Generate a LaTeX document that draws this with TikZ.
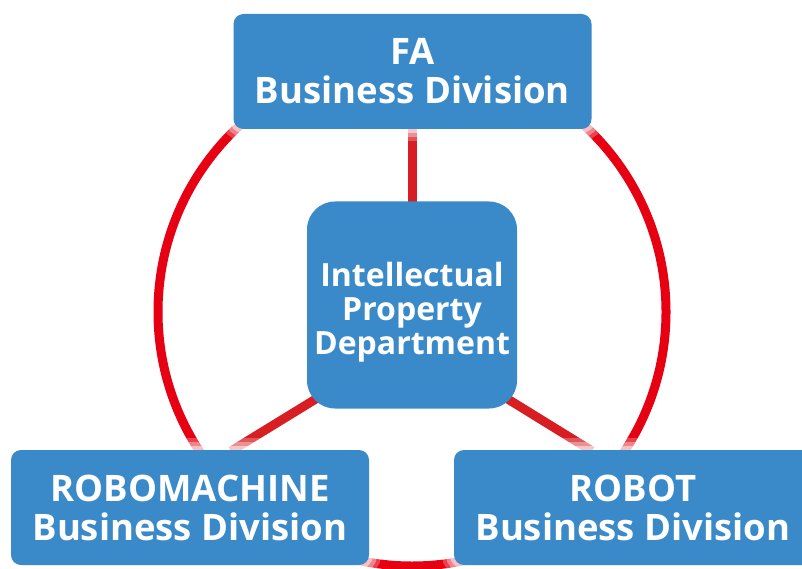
\documentclass[tikz,border=0pt]{standalone}
\usepackage{fontspec}
\setsansfont{Open Sans}
\definecolor{boxblue}{RGB}{58,137,201}
\definecolor{ringred}{RGB}{230,0,18}
\definecolor{spokered}{RGB}{215,30,35}
\tikzset{
  halo/.style={
    preaction={draw=white,draw opacity=.25,line width=24pt},
    preaction={draw=white,draw opacity=.35,line width=16pt},
    preaction={draw=white,draw opacity=.5,line width=8pt}},
  divbox/.style={rectangle, rounded corners=10pt, fill=boxblue, text=white,
    minimum width=358pt, minimum height=115pt, inner sep=0pt, align=center,
    font=\sffamily\bfseries\fontsize{36.5}{39}\selectfont, halo},
  ipbox/.style={rectangle, rounded corners=28pt, fill=boxblue, text=white,
    minimum width=210pt, minimum height=207pt, inner sep=0pt, align=center,
    font=\sffamily\bfseries\fontsize{32}{34}\selectfont},
  ring/.style={draw=ringred, line width=9pt},
  spoke/.style={draw=spokered, line width=9pt}
}
\begin{document}
\begin{tikzpicture}[x=1pt,y=-1pt]
\useasboundingbox (0,0) rectangle (802,569);
\coordinate (ringc) at (412,312);
\coordinate (hub) at (412,340);
\coordinate (rmjoin) at (231,451);
\coordinate (rbjoin) at (592,451);
\coordinate (fajoin) at (412,120);
\draw[ring] (ringc) circle[radius=254pt];
\draw[spoke] (hub) -- (fajoin);
\draw[spoke] (hub) -- (rmjoin);
\draw[spoke] (hub) -- (rbjoin);
\node[divbox] (fa) at (412.5,71.5) {FA\\Business Division};
\node[divbox] (rm) at (190,507.5) {ROBOMACHINE\\Business Division};
\node[divbox] (rb) at (633,507.5) {ROBOT\\Business Division};
\node[ipbox] (ip) at (412,305) {\rule{0pt}{38pt}Intellectual\\Property\\Department};
\end{tikzpicture}
\end{document}
